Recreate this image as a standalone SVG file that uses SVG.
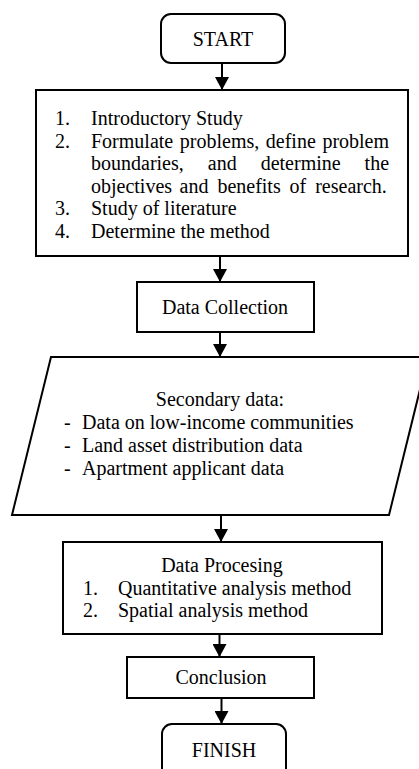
<svg xmlns="http://www.w3.org/2000/svg" width="419" height="769" viewBox="0 0 419 769">
<style>
.box{fill:#fff;stroke:#000;stroke-width:2}
.t{font-family:"Liberation Serif","Times New Roman",serif;font-size:20px;fill:#000}
.c{text-anchor:middle}
.ln{stroke:#000;stroke-width:2;fill:none}
</style>
<defs>
<marker id="ah" viewBox="0 0 13 14" refX="13" refY="7" markerWidth="13" markerHeight="14" markerUnits="userSpaceOnUse" orient="auto">
<path d="M0,0 L13,7 L0,14 Z" fill="#000"/>
</marker>
</defs>
<rect width="419" height="769" fill="#fff"/>
<g id="connectors">
<line class="ln" x1="222" y1="63" x2="222" y2="90" marker-end="url(#ah)"/>
<line class="ln" x1="220" y1="256" x2="220" y2="282" marker-end="url(#ah)"/>
<line class="ln" x1="220" y1="332" x2="220" y2="357" marker-end="url(#ah)"/>
<line class="ln" x1="221" y1="515" x2="221" y2="542" marker-end="url(#ah)"/>
<line class="ln" x1="219.5" y1="634" x2="219.5" y2="657" marker-end="url(#ah)"/>
<line class="ln" x1="221.5" y1="698" x2="221.5" y2="724" marker-end="url(#ah)"/>
</g>
<g id="start">
<rect class="box" x="161" y="14" width="124" height="49" rx="10"/>
<text class="t c" x="223" y="46">START</text>
</g>
<g id="steps">
<rect class="box" x="36" y="90" width="372" height="166"/>
<text class="t" x="55" y="125">1.</text>
<text class="t" x="91" y="125">Introductory Study</text>
<text class="t" x="55" y="147.6">2.</text>
<text class="t" y="147.6"><tspan x="91">Formulate</tspan><tspan x="179.8">problems,</tspan><tspan x="265.8">define</tspan><tspan x="322.4">problem</tspan></text>
<text class="t" y="170.2"><tspan x="91">boundaries,</tspan><tspan x="207.8">and</tspan><tspan x="260.7">determine</tspan><tspan x="364.6">the</tspan></text>
<text class="t" y="192.8"><tspan x="91">objectives</tspan><tspan x="179.5">and</tspan><tspan x="217.4">benefits</tspan><tspan x="289.6">of</tspan><tspan x="315.2">research.</tspan></text>
<text class="t" x="55" y="215.4">3.</text>
<text class="t" x="91" y="215.4">Study of literature</text>
<text class="t" x="55" y="238">4.</text>
<text class="t" x="91" y="238">Determine the method</text>
</g>
<g id="collection">
<rect class="box" x="137" y="282" width="177" height="50"/>
<text class="t c" x="225" y="314">Data Collection</text>
</g>
<g id="secondary">
<path class="box" d="M51,357 L428,357 L389,515 L12,515 Z"/>
<text class="t c" x="220" y="406">Secondary data:</text>
<text class="t" x="64" y="429">-</text>
<text class="t" x="82" y="429">Data on low-income communities</text>
<text class="t" x="64" y="452">-</text>
<text class="t" x="82" y="452">Land asset distribution data</text>
<text class="t" x="64" y="475">-</text>
<text class="t" x="82" y="475">Apartment applicant data</text>
</g>
<g id="processing">
<rect class="box" x="63" y="542" width="319" height="92"/>
<text class="t c" x="222" y="572">Data Procesing</text>
<text class="t" x="83" y="594.6">1.</text>
<text class="t" x="118" y="594.6">Quantitative analysis method</text>
<text class="t" x="83" y="617.2">2.</text>
<text class="t" x="118" y="617.2">Spatial analysis method</text>
</g>
<g id="conclusion">
<rect class="box" x="127" y="657" width="187" height="41"/>
<text class="t c" x="221" y="684">Conclusion</text>
</g>
<g id="finish">
<rect class="box" x="162" y="724" width="124" height="60" rx="10"/>
<text class="t c" x="224" y="757">FINISH</text>
</g>
</svg>
